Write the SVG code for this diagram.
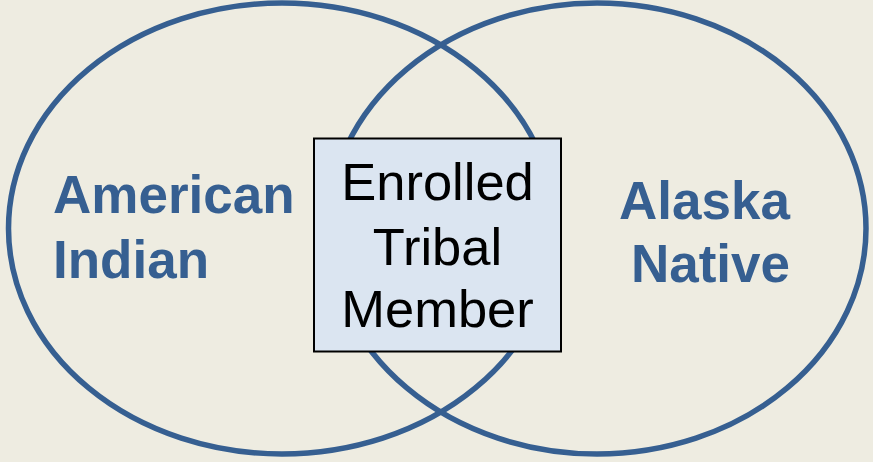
<svg xmlns="http://www.w3.org/2000/svg" width="873" height="462" viewBox="0 0 873 462">
<style>
.ring{fill:none;stroke:#365F91;stroke-width:5.5}
.lbl{font-family:"Liberation Sans",Arial,sans-serif;font-weight:bold;font-size:53px;fill:#365F91}
.box{fill:#DBE5F1;stroke:#000;stroke-width:2}
.mid{font-family:"Liberation Sans",Arial,sans-serif;font-size:52.5px;fill:#000;text-anchor:middle}
</style>
<rect x="0" y="0" width="873" height="462" fill="#EEECE1"/>
<g id="american-indian">
<ellipse class="ring" cx="282" cy="228.5" rx="273.5" ry="225.5"/>
<text class="lbl" x="53" y="212.7">American</text>
<text class="lbl" x="53" y="278.3">Indian</text>
</g>
<g id="alaska-native">
<ellipse class="ring" cx="597" cy="228.5" rx="269" ry="225.5"/>
<text class="lbl" x="790" y="219" text-anchor="end">Alaska</text>
<text class="lbl" x="790" y="282" text-anchor="end">Native</text>
</g>
<g id="enrolled-tribal-member">
<rect class="box" x="314" y="138.5" width="247" height="213"/>
<text class="mid" x="437.5" y="200">Enrolled</text>
<text class="mid" x="437.5" y="265">Tribal</text>
<text class="mid" x="437.5" y="327">Member</text>
</g>
<g id="connectors"></g>
</svg>
